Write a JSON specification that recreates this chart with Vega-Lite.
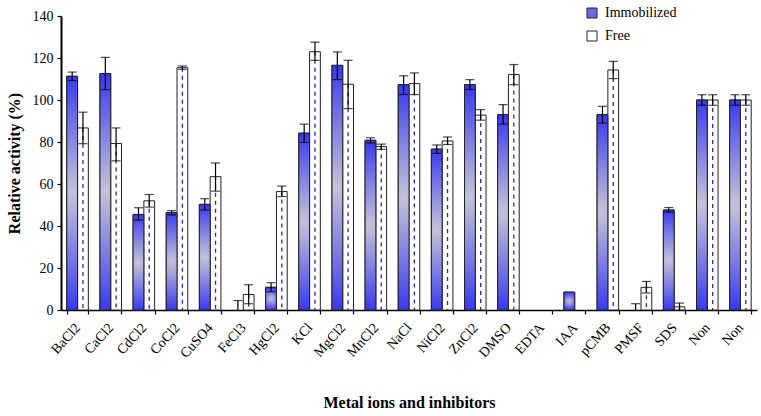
{
  "$schema": "https://vega.github.io/schema/vega-lite/v6.json",
  "width": 696,
  "height": 294,
  "autosize": {"type": "none"},
  "padding": {"left": 61, "top": 16, "right": 4, "bottom": 106},
  "background": "white",
  "config": {
    "view": {"stroke": null},
    "font": "Liberation Serif",
    "axis": {"labelFont": "Liberation Serif", "titleFont": "Liberation Serif", "domainColor": "black", "tickColor": "black", "labelColor": "black", "titleColor": "black", "grid": false}
  },
  "data": {
    "values": [
      {"cat": "BaCl2", "type": "Immobilized", "v": 111.3, "lo": 109.3, "hi": 113.3},
      {"cat": "BaCl2", "type": "Free", "v": 86.7, "lo": 79.2, "hi": 94.2},
      {"cat": "CaCl2", "type": "Immobilized", "v": 112.6, "lo": 104.9, "hi": 120.3},
      {"cat": "CaCl2", "type": "Free", "v": 79.3, "lo": 71.0, "hi": 86.7},
      {"cat": "CdCl2", "type": "Immobilized", "v": 45.5, "lo": 42.8, "hi": 48.7},
      {"cat": "CdCl2", "type": "Free", "v": 52.0, "lo": 49.0, "hi": 55.0},
      {"cat": "CoCl2", "type": "Immobilized", "v": 46.3, "lo": 45.3, "hi": 47.3},
      {"cat": "CoCl2", "type": "Free", "v": 115.4, "lo": 114.6, "hi": 116.2},
      {"cat": "CuSO4", "type": "Immobilized", "v": 50.3, "lo": 47.6, "hi": 53.0},
      {"cat": "CuSO4", "type": "Free", "v": 63.5, "lo": 56.6, "hi": 70.0},
      {"cat": "FeCl3", "type": "Immobilized", "v": 0, "lo": 0, "hi": 4.5},
      {"cat": "FeCl3", "type": "Free", "v": 7.4, "lo": 3.0, "hi": 12.0},
      {"cat": "HgCl2", "type": "Immobilized", "v": 10.8, "lo": 8.7, "hi": 13.0},
      {"cat": "HgCl2", "type": "Free", "v": 56.4, "lo": 54.0, "hi": 59.0},
      {"cat": "KCl", "type": "Immobilized", "v": 84.2, "lo": 79.8, "hi": 88.5},
      {"cat": "KCl", "type": "Free", "v": 123.0, "lo": 118.9, "hi": 127.6},
      {"cat": "MgCl2", "type": "Immobilized", "v": 116.5, "lo": 109.7, "hi": 122.9},
      {"cat": "MgCl2", "type": "Free", "v": 107.5, "lo": 95.9, "hi": 118.9},
      {"cat": "MnCl2", "type": "Immobilized", "v": 80.8, "lo": 79.5, "hi": 82.0},
      {"cat": "MnCl2", "type": "Free", "v": 77.8, "lo": 76.5, "hi": 79.0},
      {"cat": "NaCl", "type": "Immobilized", "v": 107.3, "lo": 102.6, "hi": 111.5},
      {"cat": "NaCl", "type": "Free", "v": 107.8, "lo": 102.6, "hi": 112.9},
      {"cat": "NiCl2", "type": "Immobilized", "v": 76.6, "lo": 74.6, "hi": 78.6},
      {"cat": "NiCl2", "type": "Free", "v": 80.5, "lo": 78.8, "hi": 82.4},
      {"cat": "ZnCl2", "type": "Immobilized", "v": 107.3, "lo": 105.0, "hi": 109.7},
      {"cat": "ZnCl2", "type": "Free", "v": 92.8, "lo": 90.4, "hi": 95.4},
      {"cat": "DMSO", "type": "Immobilized", "v": 93.0, "lo": 88.5, "hi": 97.8},
      {"cat": "DMSO", "type": "Free", "v": 112.1, "lo": 107.3, "hi": 116.9},
      {"cat": "EDTA", "type": "Immobilized", "v": 0},
      {"cat": "EDTA", "type": "Free", "v": 0},
      {"cat": "IAA", "type": "Immobilized", "v": 8.5},
      {"cat": "IAA", "type": "Free", "v": 0},
      {"cat": "pCMB", "type": "Immobilized", "v": 93.0, "lo": 89.0, "hi": 97.0},
      {"cat": "pCMB", "type": "Free", "v": 114.3, "lo": 110.2, "hi": 118.4},
      {"cat": "PMSF", "type": "Immobilized", "v": 0, "lo": 0, "hi": 3.0},
      {"cat": "PMSF", "type": "Free", "v": 10.8, "lo": 8.1, "hi": 13.6},
      {"cat": "SDS", "type": "Immobilized", "v": 47.6, "lo": 46.6, "hi": 48.8},
      {"cat": "SDS", "type": "Free", "v": 1.5, "lo": 0, "hi": 3.3},
      {"cat": "Non_1", "type": "Immobilized", "v": 100.0, "lo": 97.5, "hi": 102.5},
      {"cat": "Non_1", "type": "Free", "v": 100.0, "lo": 97.5, "hi": 102.5},
      {"cat": "Non_2", "type": "Immobilized", "v": 100.0, "lo": 97.5, "hi": 102.5},
      {"cat": "Non_2", "type": "Free", "v": 100.0, "lo": 97.5, "hi": 102.5}
    ]
  },
  "encoding": {
    "x": {
      "field": "cat", "type": "nominal", "sort": null,
      "scale": {"paddingInner": 0.35, "paddingOuter": 0.175},
      "axis": {
        "title": "Metal ions and inhibitors",
        "titleFont": "Liberation Serif", "titleFontSize": 16, "titleFontWeight": "bold",
        "titleY": 84, "titleBaseline": "top",
        "labelFont": "Liberation Serif",
        "labelAngle": -48, "labelAlign": "right", "labelBaseline": "middle",
        "labelFontSize": 14, "labelPadding": 11,
        "labelExpr": "split(datum.label, '_')[0]",
        "tickBand": "extent", "tickSize": 4, "domainWidth": 1.5, "tickWidth": 1.2
      }
    },
    "xOffset": {"field": "type", "type": "nominal", "scale": {"domain": ["Immobilized", "Free"], "paddingInner": 0, "paddingOuter": 0}}
  },
  "layer": [
    {
      "mark": {"type": "bar", "stroke": "#222222", "strokeWidth": 1},
      "encoding": {
        "y": {
          "field": "v", "type": "quantitative",
          "scale": {"domain": [0, 140], "nice": false},
          "axis": {
            "title": "Relative activity (%)", "titleFont": "Liberation Serif", "titleFontSize": 16, "titleFontWeight": "bold",
            "titlePadding": 10, "values": [0, 20, 40, 60, 80, 100, 120, 140],
            "labelFont": "Liberation Serif",
            "labelFontSize": 14, "labelPadding": 4, "tickSize": 4, "domainWidth": 2, "tickWidth": 1.2
          }
        },
        "strokeOpacity": {"condition": {"test": "datum.v == 0", "value": 0}, "value": 1},
        "color": {
          "field": "type", "type": "nominal",
          "scale": {"domain": ["Immobilized", "Free"], "range": ["#6a6ae8", "#ffffff"]},
          "legend": {
            "title": null, "orient": "none", "legendX": 524, "legendY": -10,
            "symbolType": "square", "symbolSize": 100, "symbolStrokeColor": "#222222", "symbolStrokeWidth": 1,
            "labelFont": "Liberation Serif", "labelFontSize": 14, "labelColor": "black", "rowPadding": 9, "labelOffset": 6
          }
        }
      }
    },
    {
      "transform": [{"filter": "datum.type === 'Immobilized' && datum.v > 0"}],
      "mark": {
        "type": "bar", "stroke": "#222222", "strokeWidth": 1,
        "fill": {"gradient": "radial", "x1": 0.5, "y1": 0.5, "r1": 0, "x2": 0.5, "y2": 0.5, "r2": 0.55,
          "stops": [{"offset": 0, "color": "#c4c4d8"}, {"offset": 0.6, "color": "#6a6ae6"}, {"offset": 1, "color": "#2a2af2"}]}
      },
      "encoding": {"y": {"field": "v", "type": "quantitative"}}
    },
    {
      "transform": [{"filter": "datum.type === 'Free' && datum.v > 0"}],
      "mark": {"type": "rule", "color": "#2a2aa8", "strokeWidth": 1.3, "strokeDash": [4, 4]},
      "encoding": {"y": {"field": "v", "type": "quantitative"}, "y2": {"datum": 0}}
    },
    {
      "transform": [{"filter": "isValid(datum.hi)"}],
      "mark": {"type": "rule", "color": "black", "strokeWidth": 1.2},
      "encoding": {"y": {"field": "lo", "type": "quantitative"}, "y2": {"field": "hi"}}
    },
    {
      "transform": [{"filter": "isValid(datum.hi)"}],
      "mark": {"type": "tick", "color": "black", "thickness": 1.2, "size": 9},
      "encoding": {"y": {"field": "hi", "type": "quantitative"}}
    },
    {
      "transform": [{"filter": "isValid(datum.hi) && datum.lo > 0"}],
      "mark": {"type": "tick", "color": "black", "thickness": 1.2, "size": 9},
      "encoding": {"y": {"field": "lo", "type": "quantitative"}}
    }
  ]
}
